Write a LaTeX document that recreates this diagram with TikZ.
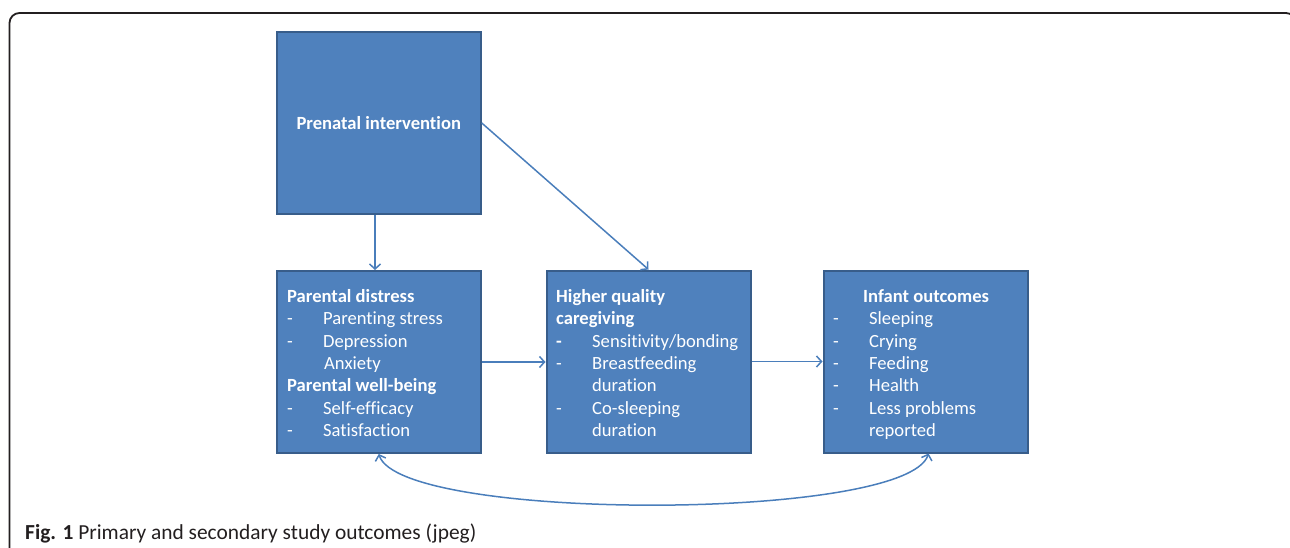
\documentclass[tikz,border=0pt]{standalone}
\usepackage{fontspec}
\setmainfont{Carlito}[Ligatures=NoCommon]
\usetikzlibrary{arrows.meta}
\definecolor{boxfill}{HTML}{4F81BD}
\definecolor{boxline}{HTML}{385D8A}
\definecolor{arrowc}{HTML}{4A7EBB}
\definecolor{framec}{HTML}{231F20}
\newcommand\dashitem[1]{\makebox[36pt][l]{-}#1}
\tikzset{barb/.tip={Straight Barb[length=5pt,width=11pt]}}
\begin{document}
\begin{tikzpicture}[x=1pt,y=-1pt,
 bluebox/.style={draw=boxline, line width=2pt, fill=boxfill, minimum width=204pt, minimum height=182pt, inner sep=0pt},
 boxtext/.style={anchor=north west, inner sep=0pt, text=white, align=left, font=\fontsize{18.6}{22.4}\selectfont},
 link/.style={draw=arrowc, line width=1.5pt, -barb},
 twolink/.style={draw=arrowc, line width=1.5pt, barb-barb},
]
\useasboundingbox (0,0) rectangle (1290,548);
\begin{scope}
\clip (0,0) rectangle (1290,548);
\draw[framec, line width=1.8pt, rounded corners=10pt] (9.5,13) rectangle (1296,580);
\end{scope}

\node[bluebox, text=white, font=\bfseries\fontsize{18.6}{22}\selectfont] (pi) at (378.75,123) {Prenatal intervention};
\node[bluebox] (pd) at (378.75,362) {};
\node[bluebox] (qc) at (648.5,361.5) {};
\node[bluebox] (io) at (925.5,361.5) {};

\node[boxtext] (pdtext) at (287,286) {\rule{0pt}{16pt}\textbf{Parental distress}\\
\dashitem{Parenting stress}\\
\dashitem{Depression}\\
\hspace*{37pt}Anxiety\\
\textbf{Parental well-being}\\
\dashitem{Self-efficacy}\\
\dashitem{Satisfaction}};

\node[boxtext] (qctext) at (556,286) {\rule{0pt}{16pt}\textbf{Higher quality}\\
\textbf{caregiving}\\
\makebox[36pt][l]{\textbf{-}}Sensitivity/bonding\\
\dashitem{Breastfeeding}\\
\hspace*{36pt}duration\\
\dashitem{Co-sleeping}\\
\hspace*{36pt}duration};

\node[boxtext] (iotext) at (833,286) {\rule{0pt}{16pt}\hspace*{30pt}\textbf{Infant outcomes}\\
\dashitem{Sleeping}\\
\dashitem{Crying}\\
\dashitem{Feeding}\\
\dashitem{Health}\\
\dashitem{Less problems}\\
\hspace*{36pt}reported};

\draw[link] ([xshift=-3.75pt]pi.south) -- ([xshift=-3.75pt]pd.north);
\draw[link] (pi.east) -- (qc.north);
\draw[link] (pd.east) -- (pd.east -| qc.west);
\draw[link] (qc.east) -- (qc.east -| io.west);
\draw[twolink] (pd.south) .. controls +(22,68) and +(-22,68) .. ([xshift=3pt]io.south);

\node[anchor=base west, inner sep=0pt, text=framec, font=\fontsize{21.4}{24}\selectfont] (cap) at (25,539) {\textbf{Fig. 1} Primary and secondary study outcomes (jpeg)};
\end{tikzpicture}
\end{document}
